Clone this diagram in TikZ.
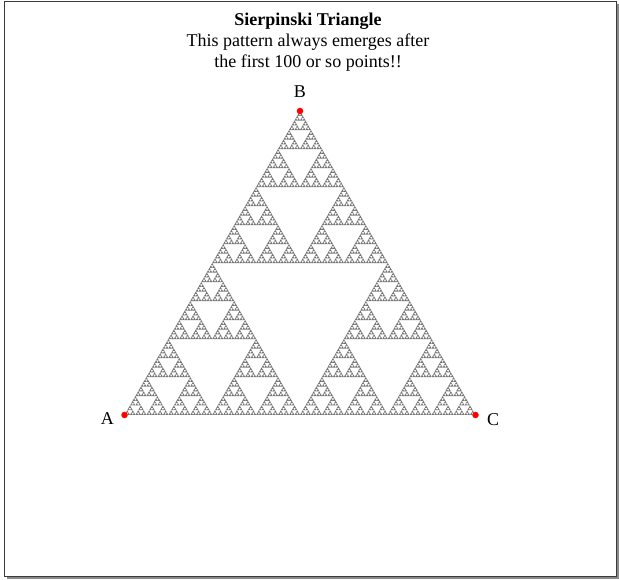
\documentclass[tikz,border=0pt]{standalone}
\usepackage{fontspec}
\setmainfont{Liberation Serif}
\usetikzlibrary{positioning}
\definecolor{sierpgray}{HTML}{767676}
\definecolor{vertexred}{HTML}{FF0000}
\definecolor{framedark}{HTML}{3A3A3A}
\definecolor{shadowgray}{HTML}{8A8A8A}

% one upward triangle: level, left x, base y, side
\newcommand\sierptri[4]{%
  \ifnum#1=0
    \fill[sierpgray] (#2,#3) -- ++(#4,0) -- ++(-#4/2,#4*0.8660254) -- cycle;
  \else
    \begingroup
    \pgfmathsetmacro\sierphalf{#4/2}%
    \pgfmathsetmacro\sierpxr{#2+#4/2}%
    \pgfmathsetmacro\sierpxt{#2+#4/4}%
    \pgfmathsetmacro\sierpyt{#3+#4/2*0.8660254}%
    \pgfmathtruncatemacro\sierplev{#1-1}%
    \edef\sierpnext{%
      \noexpand\sierptri{\sierplev}{#2}{#3}{\sierphalf}%
      \noexpand\sierptri{\sierplev}{\sierpxr}{#3}{\sierphalf}%
      \noexpand\sierptri{\sierplev}{\sierpxt}{\sierpyt}{\sierphalf}}%
    \sierpnext
    \endgroup
  \fi}

\begin{document}
\begin{tikzpicture}[x=1pt, y=1pt,
    vertexdot/.style={circle, fill=vertexred, inner sep=0pt, minimum size=6.5pt},
    vertexlabel/.style={inner sep=0pt, font=\fontsize{18}{21}\selectfont}]
  \useasboundingbox (0,0) rectangle (619,579);
  % frame with shadow
  \fill[shadowgray] (7,0.5) rectangle (619,575);
  \draw[framedark, fill=white, line width=1pt] (4.5,3) rectangle (616.5,577.5);
  % title
  \node[inner sep=0pt, anchor=north, align=center, font=\fontsize{18}{21}\selectfont]
      (title) at (308,566.5)
      {\textbf{Sierpinski Triangle}\\This pattern always emerges after\\the first 100 or so points!!};
  % the fractal
  \sierptri{7}{124.5}{164}{351}
  % corner points
  \node[vertexdot] (A) at (124.5,164) {};
  \node[vertexdot] (B) at (300,468) {};
  \node[vertexdot] (C) at (475.5,164) {};
  \node[vertexlabel, left=7pt of A, yshift=-4pt] (labA) {A};
  \node[vertexlabel, above=10pt of B] (labB) {B};
  \node[vertexlabel, right=8pt of C, yshift=-5pt] (labC) {C};
\end{tikzpicture}
\end{document}
